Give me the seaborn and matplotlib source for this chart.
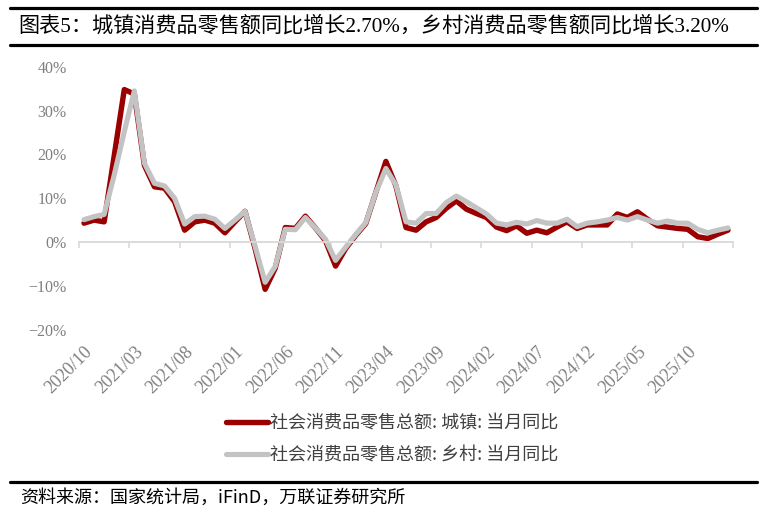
import matplotlib
matplotlib.use("Agg")
import matplotlib.pyplot as plt
import matplotlib.ticker as mticker
from matplotlib.lines import Line2D
import pandas as pd
import seaborn as sns

# 2020/10 .. 2026/02, one category per month
months = pd.period_range("2020-10", periods=65, freq="M").strftime("%Y/%m").tolist()

urban_yoy = [4.3, 5.0, 4.6, 19.7, 34.8, 33.8, 17.5, 12.6, 12.3, 9.2,
             2.7, 4.6, 5.0, 4.3, 2.1, 4.6, 7.0, -1.5, -10.8, -6.0,
             3.3, 3.1, 5.9, 3.2, 0.3, -5.5, -1.5, 1.5, 4.2, 11.3,
             18.4, 12.8, 3.3, 2.7, 4.6, 5.6, 7.7, 9.4, 7.5, 6.5,
             5.6, 3.4, 2.6, 3.7, 2.0, 2.7, 2.1, 3.4, 4.6, 3.1,
             3.9, 3.9, 3.9, 6.4, 5.6, 6.9, 5.2, 3.7, 3.4, 3.1,
             2.9, 1.2, 0.8, 1.8, 2.7]

rural_yoy = [5.1, 5.8, 6.3, 15.3, 25.2, 34.5, 18.0, 13.4, 12.8, 10.0,
             4.1, 5.8, 5.9, 5.2, 3.1, 5.0, 7.0, -1.0, -9.2, -5.6,
             2.9, 2.8, 5.6, 3.2, 0.6, -4.2, -1.2, 1.7, 4.4, 11.3,
             16.8, 13.0, 4.6, 4.3, 6.5, 6.5, 9.0, 10.5, 9.2, 7.8,
             6.4, 4.3, 3.9, 4.5, 4.1, 4.9, 4.3, 4.3, 5.2, 3.5,
             4.3, 4.6, 5.0, 5.6, 5.0, 5.8, 5.0, 4.3, 4.8, 4.3,
             4.3, 2.9, 2.1, 2.7, 3.2]

series_names = ["社会消费品零售总额: 城镇: 当月同比", "社会消费品零售总额: 乡村: 当月同比"]
series_colors = ["#9A0000", "#C3C3C3"]

title = "图表5：城镇消费品零售额同比增长2.70%，乡村消费品零售额同比增长3.20%"
source = "资料来源：国家统计局，iFinD，万联证券研究所"

df = pd.DataFrame({
    "idx": list(range(len(months))) * 2,
    "month": months * 2,
    "value": urban_yoy + rural_yoy,
    "series": [series_names[0]] * len(months) + [series_names[1]] * len(months),
})

sns.set_style("white")
plt.rcParams["font.family"] = ["Liberation Serif", "Noto Sans CJK SC"]
plt.rcParams["axes.unicode_minus"] = True

fig = plt.figure(figsize=(7.65, 5.12), dpi=100)
ax = fig.add_axes([79 / 765, 1 - 329.6 / 512, 654 / 765, 262.8 / 512])

sns.lineplot(data=df, x="idx", y="value", hue="series", hue_order=series_names,
             palette=series_colors, ax=ax, legend=False, sort=False)
for line, lw in zip(ax.get_lines(), [3.9, 3.7]):
    line.set_linewidth(lw)
    line.set_solid_joinstyle("round")

n = len(months)
ax.set_xlim(-0.5, n - 0.5)
ax.set_ylim(-20, 40)
ax.set_yticks(range(-20, 41, 10))
ax.yaxis.set_major_formatter(mticker.FuncFormatter(lambda v, p: f"{v:.0f}%".replace("-", "\u2212")))
ax.tick_params(axis="y", length=0, pad=9, labelsize=11.5, labelcolor="#7F7F7F")
ax.set_xlabel("")
ax.set_ylabel("")

for side in ["left", "right", "top"]:
    ax.spines[side].set_visible(False)
ax.spines["bottom"].set_position(("data", 0))
ax.spines["bottom"].set_color("#D9D9D9")
ax.spines["bottom"].set_linewidth(1.3)
ax.set_xticks([k - 0.5 for k in range(0, n + 1, 5)])
ax.tick_params(axis="x", length=4.5, width=1.2, color="#D9D9D9", direction="out", labelbottom=False)

# date labels along the bottom of the plot area
ax2 = ax.twiny()
ax2.set_xlim(ax.get_xlim())
ax2.xaxis.tick_bottom()
label_pos = list(range(0, n, 5))
ax2.set_xticks(label_pos)
ax2.set_xticklabels([months[i] for i in label_pos])
ax2.tick_params(axis="x", length=0, pad=10, labelsize=13, labelcolor="#7F7F7F")
plt.setp(ax2.get_xticklabels(), rotation=45, ha="right", rotation_mode="anchor")
for s in ax2.spines.values():
    s.set_visible(False)

handles = [Line2D([], [], color=c, lw=lw) for c, lw in zip(series_colors, [3.9, 3.7])]
fig.legend(handles, series_names, loc="center", bbox_to_anchor=(392 / 765, 1 - 439 / 512),
           frameon=False, handlelength=2.3, handletextpad=0.1, labelspacing=0.78,
           prop={"family": "Noto Sans CJK SC", "size": 13}, labelcolor="#404040")

# header / footer rules
for y in [8, 45, 482]:
    fig.add_artist(Line2D([10 / 765, 757 / 765], [1 - y / 512] * 2, color="black",
                          lw=2.3, transform=fig.transFigure))

fig.text(18 / 765, 1 - 26 / 512, title, fontsize=15.2, va="center", ha="left",
         family=["Liberation Serif", "Noto Sans CJK SC"], color="black")
fig.text(20 / 765, 1 - 498 / 512, source, fontsize=13, va="center", ha="left",
         family=["Noto Sans CJK SC"], style="italic", color="black")

fig.savefig("out.png", dpi=100)
